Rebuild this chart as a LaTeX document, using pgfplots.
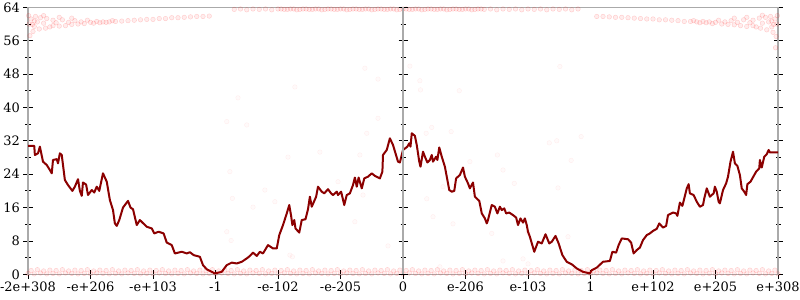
\documentclass[border=0pt]{standalone}
\usepackage{fontspec}
\setmainfont{DejaVu Serif}
\usepackage{pgfplots}
\pgfplotsset{compat=1.18}
\definecolor{ln}{RGB}{139,0,0}
\definecolor{ax}{RGB}{170,170,170}
\pgfplotsset{
  dots/.style={only marks, mark=*, mark size=2.3bp, mark options={draw=red, fill=red, draw opacity=0.18, fill opacity=0.07}},
  faint/.style={only marks, mark=*, mark size=2.3bp, mark options={draw=red, fill=red, draw opacity=0.06, fill opacity=0.02}},
}
\begin{document}
\begin{tikzpicture}
\useasboundingbox (-28bp,-25.7bp) rectangle (772bp,274.3bp);
\begin{axis}[
  at={(0,0)}, anchor=south west,
  scale only axis, width=750bp, height=267bp,
  xmin=-6, xmax=6, ymin=0, ymax=64,
  xtick={-6,...,6},
  xticklabels={-2e+308,-e+206,-e+103,-1,-e-102,-e-205,0,e-206,e-103,1,e+102,e+205,e+308},
  ytick={0,8,...,64},
  minor y tick num=1,
  xtick pos=bottom, ytick pos=both, yticklabel pos=left,
  tick align=center,
  major tick length=9bp, minor tick length=5bp,
  tick style={black, line width=0.8bp},
  axis line style={ax, line width=1.5bp},
  tick label style={font=\fontsize{13}{15}\selectfont},
  /pgf/number format/assume math mode=true,
  clip=true,
]
% bottom band
\addplot[dots] coordinates {
(-6,0.2)(-5.9,0.1)(-5.8,0.3)(-5.7,0.1)(-5.6,0.2)(-5.5,0.1)(-5.4,0.3)(-5.3,0.2)(-5.2,0.1)(-5.1,0.2)
(-5,0.1)(-4.9,0.3)(-4.8,0.2)(-4.7,0.1)(-4.6,0.2)(-4.5,0.1)(-4.4,0.3)(-4.3,0.2)(-4.2,0.1)(-4.1,0.2)
(-4,0.1)(-3.9,0.3)(-3.8,0.2)(-3.7,0.1)(-3.6,0.2)(-3.5,0.1)(-3.4,0.3)(-3.3,0.2)(-3.2,0.1)(-3.1,0.2)
(-3,0.1)(-2.9,0.3)(-2.8,0.2)(-2.7,0.1)(-2.6,0.2)(-2.5,0.1)(-2.4,0.3)(-2.3,0.2)(-2.2,0.1)(-2.1,0.2)
(-2,0.1)(-1.9,0.3)(-1.8,0.2)(-1.7,0.1)(-1.6,0.2)(-1.5,0.1)(-1.4,0.3)(-1.3,0.2)(-1.2,0.1)(-1.1,0.2)
(-1,0.1)(-0.9,0.3)(-0.8,0.2)(-0.7,0.1)(-0.6,0.2)(-0.5,0.1)(-0.4,0.3)(-0.3,0.2)(-0.2,0.1)(-0.1,0.2)
(0,0.1)(0.1,0.3)(0.2,0.2)(0.3,0.1)(0.4,0.2)(0.5,0.1)(0.6,0.3)(0.7,0.2)(0.8,0.1)(0.9,0.2)
(1,0.1)(1.1,0.3)(1.2,0.2)(1.3,0.1)(1.4,0.2)(1.5,0.1)(1.6,0.3)(1.7,0.2)(1.8,0.1)(1.9,0.2)
(2,0.1)(2.1,0.3)(2.2,0.2)(2.3,0.1)(2.4,0.2)(2.5,0.1)(2.6,0.3)(2.7,0.2)(2.8,0.1)(2.9,0.2)
(3,0.1)(3.1,0.3)(3.2,0.2)(3.3,0.1)(3.4,0.2)(3.5,0.1)(3.6,0.3)(3.7,0.2)(3.8,0.1)(3.9,0.2)
(4,0.1)(4.1,0.3)(4.2,0.2)(4.3,0.1)(4.4,0.2)(4.5,0.1)(4.6,0.3)(4.7,0.2)(4.8,0.1)(4.9,0.2)
(5,0.1)(5.1,0.3)(5.2,0.2)(5.3,0.1)(5.4,0.2)(5.5,0.1)(5.6,0.3)(5.7,0.2)(5.8,0.1)(5.9,0.2)(6,0.1)
(-5.95,0.9)(-5.85,1.1)(-5.75,0.8)(-5.65,1.0)(-5.55,0.9)(-5.45,1.1)(-5.35,0.8)(-5.25,1.0)(-5.15,0.9)(-5.05,1.1)
(-4.95,0.8)(-4.85,1.0)(-4.75,0.9)(-4.65,1.1)(-4.55,0.8)(-4.45,1.0)(-4.35,0.9)(-4.25,1.1)(-4.15,0.8)(-4.05,1.0)
(-3.95,0.9)(-3.85,1.1)(-3.75,0.8)(-3.65,1.0)(-3.55,0.9)(-3.45,1.1)(-3.35,0.8)(-3.25,1.0)(-3.15,0.9)(-3.05,1.1)
(-2.95,0.8)(-2.85,1.0)(-2.75,0.9)(-2.65,1.1)(-2.55,0.8)(-2.45,1.0)(-2.35,0.9)(-2.25,1.1)(-2.15,0.8)(-2.05,1.0)
(-1.95,0.9)(-1.85,1.1)(-1.75,0.8)(-1.65,1.0)(-1.55,0.9)(-1.45,1.1)(-1.35,0.8)(-1.25,1.0)(-1.15,0.9)(-1.05,1.1)
(-0.95,0.8)(-0.85,1.0)(-0.75,0.9)(-0.65,1.1)(-0.55,0.8)(-0.45,1.0)(-0.35,0.9)(-0.25,1.1)(-0.15,0.8)(-0.05,1.0)
(0.05,0.9)(0.15,1.1)(0.25,0.8)(0.35,1.0)(0.45,0.9)(0.55,1.1)(0.65,0.8)(0.75,1.0)(0.85,0.9)(0.95,1.1)
(1.05,0.8)(1.15,1.0)(1.25,0.9)(1.35,1.1)(1.45,0.8)(1.55,1.0)(1.65,0.9)(1.75,1.1)(1.85,0.8)(1.95,1.0)
(2.05,0.9)(2.15,1.1)(2.25,0.8)(2.35,1.0)(2.45,0.9)(2.55,1.1)(2.65,0.8)(2.75,1.0)(2.85,0.9)(2.95,1.1)
(3.05,0.8)(3.15,1.0)(3.25,0.9)(3.35,1.1)(3.45,0.8)(3.55,1.0)(3.65,0.9)(3.75,1.1)(3.85,0.8)(3.95,1.0)
(4.05,0.9)(4.15,1.1)(4.25,0.8)(4.35,1.0)(4.45,0.9)(4.55,1.1)(4.65,0.8)(4.75,1.0)(4.85,0.9)(4.95,1.1)
(5.05,0.8)(5.15,1.0)(5.25,0.9)(5.35,1.1)(5.45,0.8)(5.55,1.0)(5.65,0.9)(5.75,1.1)(5.85,0.8)(5.95,1.0)
};
% top band
\addplot[dots] coordinates {
(-2.7,63.5)(-2.6,63.6)(-2.5,63.4)(-2.4,63.6)(-2.3,63.5)(-2.2,63.6)(-2.1,63.4)(-2.0,63.6)(-1.9,63.5)(-1.8,63.6)
(-1.7,63.4)(-1.6,63.6)(-1.5,63.5)(-1.4,63.6)(-1.3,63.4)(-1.2,63.6)(-1.1,63.5)(-1.0,63.6)(-0.9,63.4)(-0.8,63.6)
(-0.7,63.5)(-0.6,63.6)(-0.5,63.4)(-0.4,63.6)(-0.3,63.5)(-0.2,63.6)(-0.1,63.4)(0,63.6)(0.1,63.5)(0.2,63.6)
(0.3,63.4)(0.4,63.6)(0.5,63.5)(0.6,63.6)(0.7,63.4)(0.8,63.6)(0.9,63.5)(1.0,63.6)(1.1,63.4)(1.2,63.6)
(1.3,63.5)(1.4,63.6)(1.5,63.4)(1.6,63.6)(1.7,63.5)(1.8,63.6)(1.9,63.4)(2.0,63.6)(2.1,63.5)(2.2,63.6)
(2.3,63.4)(2.4,63.6)(2.5,63.5)(2.6,63.6)(2.7,63.4)(2.8,63.6)
(-1.95,63.6)(-1.85,63.5)(-1.75,63.6)(-1.65,63.5)(-1.55,63.6)(-1.45,63.5)(-1.35,63.6)(-1.25,63.5)(-1.15,63.6)(-1.05,63.5)
(-0.95,63.6)(-0.85,63.5)(-0.75,63.6)(-0.65,63.5)(-0.55,63.6)(-0.45,63.5)(-0.35,63.6)(-0.25,63.5)(-0.15,63.6)(-0.05,63.5)
(0.05,63.6)(0.15,63.5)(0.25,63.6)(0.35,63.5)(0.45,63.6)(0.55,63.5)(0.65,63.6)(0.75,63.5)(0.85,63.6)(0.95,63.5)
(1.05,63.6)(1.15,63.5)(1.25,63.6)
};
% top left curve
\addplot[dots] coordinates {
(-3.1,61.9)(-3.2,61.8)(-3.3,61.8)(-3.4,61.7)(-3.5,61.6)(-3.6,61.5)(-3.7,61.5)(-3.8,61.3)(-3.9,61.3)(-4.0,61.1)
(-4.1,61.1)(-4.2,61.0)(-4.3,60.9)(-4.4,60.8)(-4.5,60.7)(-4.6,60.6)(-4.65,60.8)(-4.7,60.5)(-4.75,60.4)(-4.8,60.5)
(-4.85,60.3)(-4.9,60.6)(-4.95,60.2)(-5.0,60.4)(-5.05,60.9)(-5.1,60.1)(-5.15,60.5)(-5.2,60.0)(-5.25,60.8)(-5.3,59.9)
(-5.35,60.4)(-5.4,59.6)(-5.45,61.0)(-5.5,59.5)(-5.55,60.3)(-5.6,60.9)(-5.65,59.3)(-5.7,61.3)(-5.72,59.0)(-5.75,60.2)
(-5.8,61.5)(-5.82,58.8)(-5.85,60.5)(-5.88,61.8)(-5.9,59.4)(-5.92,58.2)(-5.95,61.2)(-5.97,57.2)(-5.98,60.0)(-5.99,62.0)
(-5.93,59.9)(-5.6,59.6)(-5.3,61.4)(-5.5,61.6)(-5.75,62.0)(-5.9,60.7)
};
% top right curve
\addplot[dots] coordinates {
(3.1,61.8)(3.2,61.8)(3.3,61.7)(3.4,61.6)(3.5,61.6)(3.6,61.5)(3.7,61.4)(3.8,61.3)(3.9,61.2)(4.0,61.2)
(4.1,61.0)(4.2,61.0)(4.3,60.9)(4.4,60.8)(4.5,60.6)(4.6,60.6)(4.65,60.8)(4.7,60.5)(4.75,60.3)(4.8,60.6)
(4.85,60.3)(4.9,60.5)(4.95,60.1)(5.0,60.4)(5.05,60.9)(5.1,60.0)(5.15,60.5)(5.2,59.9)(5.25,60.8)(5.3,59.8)
(5.35,60.4)(5.4,59.6)(5.45,61.0)(5.5,59.4)(5.55,60.3)(5.6,60.9)(5.65,59.3)(5.7,61.4)(5.72,59.0)(5.75,60.2)
(5.8,61.6)(5.82,58.6)(5.85,60.5)(5.88,61.8)(5.9,59.3)(5.92,58.0)(5.95,61.2)(5.97,57.0)(5.98,60.0)(5.99,62.0)
(5.96,54.3)(5.93,59.9)(5.6,59.6)(5.3,61.4)(5.5,61.6)(5.75,62.1)(5.9,60.7)
};
% sparse points in the middle
\addplot[faint] coordinates {
(-0.61,49.4)(-0.4,46.8)(-1.73,44.9)(-2.64,42.3)(0.11,49.9)(0.27,46.4)(0.28,44.2)(0.9,44.0)(2.51,49.8)
(-2.82,36.6)(-2.5,35.8)(-2.77,24.6)(-2.73,18.2)(-2.21,20.2)(-2.4,16.1)(-2.05,17.4)(-1.84,28.1)(-1.33,29.3)
(-0.69,28.6)(-0.58,33.8)(-0.4,37.4)(-1.04,22.2)(-0.64,19.0)(-0.77,12.6)(-0.24,6.8)(-2.82,10.2)(-2.75,8.1)
(-1.81,4.6)(-1.77,4.2)(0.46,35.2)(0.37,33.8)(0.77,34.2)(1.07,27.0)(1.51,28.6)(1.6,25.0)(1.78,21.8)(0.64,21.0)
(0.38,18.1)(0.48,13.8)(0.8,12.1)(1.42,9.8)(2.0,10.0)(2.34,31.5)(2.46,32.0)(2.48,20.7)(2.69,27.3)(2.85,33.0)
(2.64,9.0)(1.6,3.2)(1.92,3.7)(2.0,2.5)(0.59,1.8)
};
% main line
\addplot[ln, line width=2bp, line join=round] coordinates {
(-6.00,30.8)(-5.90,30.8)(-5.89,28.6)(-5.84,29.0)(-5.81,30.6)(-5.76,27.0)(-5.70,26.2)(-5.65,25.0)(-5.62,24.2)
(-5.60,27.4)(-5.54,27.6)(-5.52,26.6)(-5.49,29.0)(-5.46,28.6)(-5.41,22.6)(-5.36,21.4)(-5.29,20.0)(-5.25,21.0)
(-5.20,22.8)(-5.17,20.0)(-5.14,18.8)(-5.12,22.0)(-5.07,21.5)(-5.04,19.0)(-4.98,20.2)(-4.94,19.6)(-4.90,21.0)
(-4.86,20.0)(-4.80,24.2)(-4.74,22.2)(-4.69,17.8)(-4.64,15.4)(-4.61,12.2)(-4.58,11.6)(-4.54,13.0)(-4.48,16.0)
(-4.40,17.6)(-4.36,16.0)(-4.32,15.6)(-4.26,11.8)(-4.21,13.0)(-4.10,11.4)(-4.02,11.0)(-3.98,9.8)(-3.91,10.2)
(-3.83,9.8)(-3.78,7.6)(-3.70,7.0)(-3.65,5.0)(-3.54,5.4)(-3.46,5.0)(-3.41,5.3)(-3.35,4.6)(-3.30,4.4)(-3.25,4.2)
(-3.20,2.2)(-3.14,1.2)(-3.01,0.2)(-2.90,0.6)(-2.82,2.2)(-2.74,2.8)(-2.66,2.6)(-2.58,3.0)(-2.50,3.8)(-2.45,4.4)
(-2.40,5.2)(-2.34,4.4)(-2.29,5.4)(-2.24,5.0)(-2.16,7.0)(-2.08,6.2)(-2.02,6.2)(-1.98,9.4)(-1.92,11.8)(-1.86,14.6)
(-1.82,16.6)(-1.79,14.0)(-1.77,11.8)(-1.74,13.0)(-1.72,11.0)(-1.66,10.0)(-1.62,13.0)(-1.56,13.2)(-1.52,15.6)
(-1.49,18.6)(-1.46,16.2)(-1.39,18.6)(-1.36,21.0)(-1.30,19.8)(-1.26,19.4)(-1.20,20.4)(-1.15,19.4)(-1.12,19.0)
(-1.06,19.8)(-1.04,19.0)(-0.99,19.8)(-0.94,16.6)(-0.90,19.0)(-0.85,19.4)(-0.80,21.4)(-0.77,23.2)(-0.74,21.0)
(-0.71,23.2)(-0.66,20.6)(-0.62,23.0)(-0.56,23.4)(-0.50,24.2)(-0.45,23.6)(-0.37,23.0)(-0.33,24.6)(-0.32,28.6)
(-0.26,29.8)(-0.21,32.6)(-0.16,31.0)(-0.12,29.0)(-0.08,27.0)(-0.05,26.8)(0.00,29.8)(0.07,30.6)(0.10,31.4)
(0.12,30.6)(0.14,33.8)(0.19,33.2)(0.22,31.0)(0.26,27.0)(0.28,25.8)(0.32,29.4)(0.35,28.2)(0.39,26.8)(0.43,27.4)
(0.46,28.6)(0.48,27.0)(0.53,28.2)(0.55,27.4)(0.58,30.4)(0.62,28.2)(0.67,25.8)(0.70,23.4)(0.74,20.2)(0.78,19.8)
(0.82,20.0)(0.85,23.0)(0.91,23.8)(0.96,25.6)(0.99,23.4)(1.04,21.8)(1.07,20.6)(1.12,22.0)(1.15,18.6)(1.19,18.0)
(1.22,17.6)(1.26,14.6)(1.31,13.4)(1.34,12.2)(1.36,13.0)(1.42,16.6)(1.47,16.2)(1.51,14.6)(1.55,16.2)(1.58,15.4)
(1.62,15.8)(1.65,14.6)(1.70,14.8)(1.76,14.2)(1.81,13.6)(1.84,11.8)(1.88,13.4)(1.92,12.4)(1.95,13.4)(1.98,11.8)
(2.00,10.2)(2.03,9.0)(2.10,5.4)(2.16,7.8)(2.22,7.4)(2.28,9.6)(2.34,7.4)(2.38,7.8)(2.44,9.2)(2.49,7.4)(2.55,4.6)
(2.62,3.0)(2.70,2.4)(2.78,1.4)(2.88,0.6)(2.99,0.2)(3.02,1.0)(3.10,1.6)(3.20,3.0)(3.31,3.2)(3.35,5.4)(3.41,5.2)
(3.45,7.0)(3.50,8.6)(3.60,8.4)(3.65,7.6)(3.69,5.0)(3.74,5.8)(3.79,6.4)(3.84,8.2)(3.90,9.4)(3.95,9.8)(4.00,10.4)
(4.06,10.9)(4.10,12.2)(4.16,11.2)(4.21,11.6)(4.24,14.2)(4.32,14.8)(4.37,14.6)(4.39,14.0)(4.43,17.2)(4.47,16.4)
(4.54,20.6)(4.57,21.6)(4.59,19.4)(4.65,19.0)(4.70,17.4)(4.75,16.2)(4.80,16.6)(4.82,18.2)(4.86,20.6)(4.91,18.6)
(4.97,19.4)(4.99,21.0)(5.02,19.8)(5.05,17.4)(5.07,17.0)(5.12,20.2)(5.17,21.8)(5.20,23.4)(5.24,27.0)(5.28,29.4)
(5.31,26.6)(5.35,26.0)(5.39,23.8)(5.42,20.6)(5.46,19.8)(5.49,19.0)(5.51,21.6)(5.56,22.2)(5.62,23.8)(5.65,24.6)
(5.70,25.4)(5.71,27.4)(5.74,25.6)(5.78,28.2)(5.82,28.8)(5.85,29.8)(5.87,29.2)(6.00,29.2)
};
\end{axis}
\begin{axis}[
  at={(0,0)}, anchor=south west,
  scale only axis, width=750bp, height=267bp,
  xmin=-6, xmax=6, ymin=0, ymax=64,
  axis x line=none, axis y line*=center,
  ytick={0,8,...,64}, minor y tick num=1, yticklabels={},
  tick align=center,
  major tick length=9bp, minor tick length=5bp,
  tick style={black, line width=0.8bp},
  axis line style={ax, line width=1.5bp},
]
\end{axis}
\end{tikzpicture}
\end{document}
